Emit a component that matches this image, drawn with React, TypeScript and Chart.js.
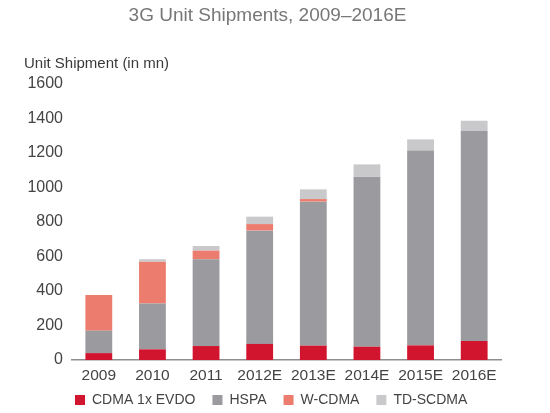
import Chart from "chart.js/auto";
import { useEffect, useRef } from "react";

const years = ["2009", "2010", "2011", "2012E", "2013E", "2014E", "2015E", "2016E"];
const cdmaEvdo = [40, 62, 81, 93, 83, 77, 85, 110];
const hspa = [130, 266, 503, 657, 835, 986, 1129, 1217];
const wcdma = [207, 242, 50, 38, 15, 0, 0, 0];
const tdScdma = [0, 14, 27, 43, 56, 71, 65, 60];
const yTicks = [0, 200, 400, 600, 800, 1000, 1200, 1400, 1600];

const FONT = "'Liberation Sans', Arial, Helvetica, sans-serif";

// legend sits under the x labels, lined up with the plot instead of the canvas edge
const legendShift = {
  id: "legendShift",
  afterLayout(chart: Chart) {
    const legend = chart.legend;
    if (!legend) return;
    legend.left += 58;
    legend.top -= 10;
    legend.bottom = chart.height;
  },
};

export default function App() {
  const chartRef = useRef<HTMLCanvasElement>(null);

  useEffect(() => {
    const chart = new Chart(chartRef.current!, {
      type: "bar",
      data: {
        labels: years,
        datasets: [
          { label: "CDMA 1x EVDO", data: cdmaEvdo, backgroundColor: "#d2152f" },
          { label: "HSPA", data: hspa, backgroundColor: "#9b9b9f" },
          { label: "W-CDMA", data: wcdma, backgroundColor: "#ec7d6e" },
          { label: "TD-SCDMA", data: tdScdma, backgroundColor: "#c9c9cc" },
        ],
      },
      options: {
        animation: false,
        responsive: false,
        layout: { padding: { top: 84, left: 0, right: 49, bottom: 0 } },
        datasets: {
          bar: { barPercentage: 0.5, categoryPercentage: 1 },
        },
        scales: {
          x: {
            stacked: true,
            grid: { display: false, drawTicks: false },
            border: { display: true, color: "#8e8e8e", width: 1.5 },
            ticks: {
              color: "#444",
              padding: 6,
              font: { family: FONT, size: 15.5 },
            },
            afterFit: (scale) => {
              scale.height = 26;
            },
          },
          y: {
            stacked: true,
            min: 0,
            max: 1600,
            afterBuildTicks: (scale) => {
              scale.ticks = yTicks.map((value) => ({ value }));
            },
            grid: { display: false, drawTicks: false },
            border: { display: false },
            ticks: {
              color: "#444",
              padding: 9,
              font: { family: FONT, size: 16 },
              callback: (value) => String(value),
            },
            afterFit: (scale) => {
              scale.width = 72;
            },
          },
        },
        plugins: {
          legend: {
            position: "bottom",
            align: "start",
            maxHeight: 27,
            labels: {
              boxWidth: 10,
              boxHeight: 10,
              padding: 17,
              color: "#444",
              font: { family: FONT, size: 14 },
            },
          },
          tooltip: { enabled: false },
        },
      },
      plugins: [legendShift],
    });

    return () => chart.destroy();
  }, []);

  return (
    <div
      style={{
        position: "absolute",
        left: 0,
        top: 0,
        width: 550,
        height: 413,
        background: "#fff",
        fontFamily: FONT,
      }}
    >
      <canvas ref={chartRef} width={550} height={413}></canvas>
      <div
        style={{
          position: "absolute",
          left: 0,
          top: 0,
          width: 535,
          lineHeight: "30px",
          textAlign: "center",
          fontSize: 19,
          color: "#777",
        }}
      >
        3G Unit Shipments, 2009–2016E
      </div>
      <div
        style={{
          position: "absolute",
          left: 24,
          top: 54,
          lineHeight: "18px",
          fontSize: 15,
          color: "#3a3a3a",
        }}
      >
        Unit Shipment (in mn)
      </div>
    </div>
  );
}
